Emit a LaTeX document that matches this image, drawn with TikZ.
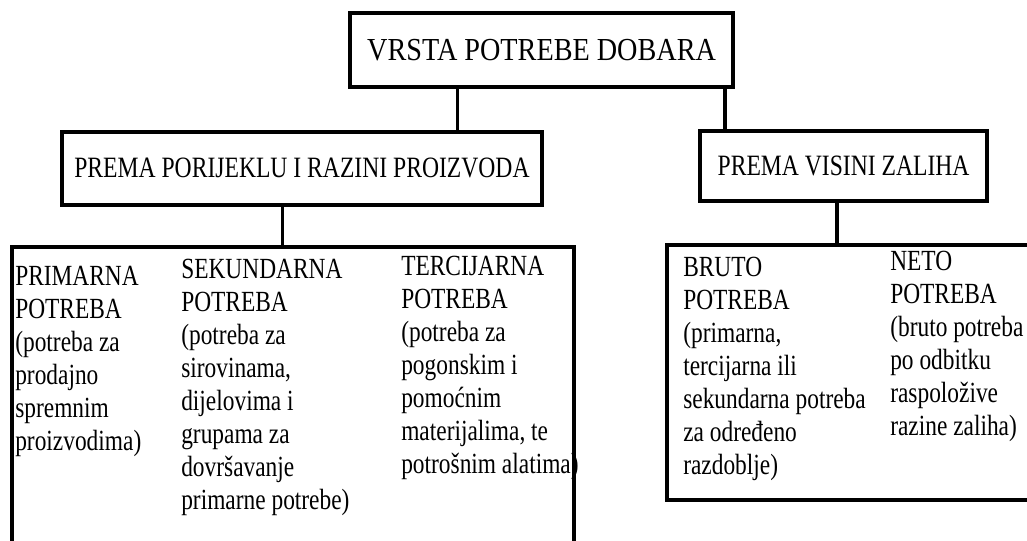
\documentclass[tikz,border=0pt]{standalone}
\usepackage{fontspec}
\setmainfont[FakeStretch=0.8]{Liberation Serif}
\newfontfamily\topfont[FakeStretch=0.88]{Liberation Serif}
\usepackage{tikz}
\usetikzlibrary{calc}

\begin{document}
\begin{tikzpicture}[
  hdr/.style={draw,line width=2.8pt,fill=white,inner sep=0pt,font=\fontsize{21}{24}\selectfont},
  grp/.style={draw,line width=2.8pt,inner sep=0pt},
  col/.style={anchor=north west,align=left,inner sep=0pt,font=\fontsize{20.8}{23.5}\selectfont},
  lnk/.style={line width=2.3pt}]
\useasboundingbox (0,0) rectangle (25.675,-13.5);
% top level
\node[hdr,minimum width=9.575cm,minimum height=1.85cm,font=\topfont\fontsize{22.8}{26}\selectfont] (vrsta) at (13.54,-1.25) {VRSTA POTREBE DOBARA};
% second level
\node[hdr,minimum width=12cm,minimum height=1.825cm] (porijeklo) at (7.55,-4.21) {PREMA PORIJEKLU I RAZINI PROIZVODA};
\node[hdr,minimum width=7.175cm,minimum height=1.75cm] (zalihe) at (21.09,-4.15) {PREMA VISINI ZALIHA};
% group boxes
\node[grp,minimum width=14.05cm,minimum height=7.825cm] (gl) at (7.325,-10.09) {};
\node[grp,minimum width=9.45cm,minimum height=6.375cm] (gr) at (21.4,-9.31) {};
% connectors
\draw[lnk] ($(vrsta.south west)!0.282!(vrsta.south east)$) coordinate (v1) -- (v1 |- porijeklo.north);
\draw[lnk] ($(vrsta.south west)!0.974!(vrsta.south east)$) coordinate (v2) -- (v2 |- zalihe.north);
\draw[lnk] ($(porijeklo.south west)!0.46!(porijeklo.south east)$) coordinate (p1) -- (p1 |- gl.north);
\draw[lnk] ($(zalihe.south west)!0.477!(zalihe.south east)$) coordinate (z1) -- (z1 |- gr.north);
% columns
\node[col] (prim) at (0.375,-6.64) {PRIMARNA\\POTREBA\\(potreba za\\prodajno\\spremnim\\proizvodima)};
\node[col] (sek) at (4.525,-6.47) {SEKUNDARNA\\POTREBA\\(potreba za\\sirovinama,\\dijelovima i\\grupama za\\dovršavanje\\primarne potrebe)};
\node[col] (ter) at (10.025,-6.39) {TERCIJARNA\\POTREBA\\(potreba za\\pogonskim i\\pomoćnim\\materijalima, te\\potrošnim alatima)};
\node[col] (bruto) at (17.075,-6.42) {BRUTO\\POTREBA\\(primarna,\\tercijarna ili\\sekundarna potreba\\za određeno\\razdoblje)};
\node[col] (neto) at (22.25,-6.27) {NETO\\POTREBA\\(bruto potreba\\po odbitku\\raspoložive\\razine zaliha)};
\end{tikzpicture}
\end{document}
